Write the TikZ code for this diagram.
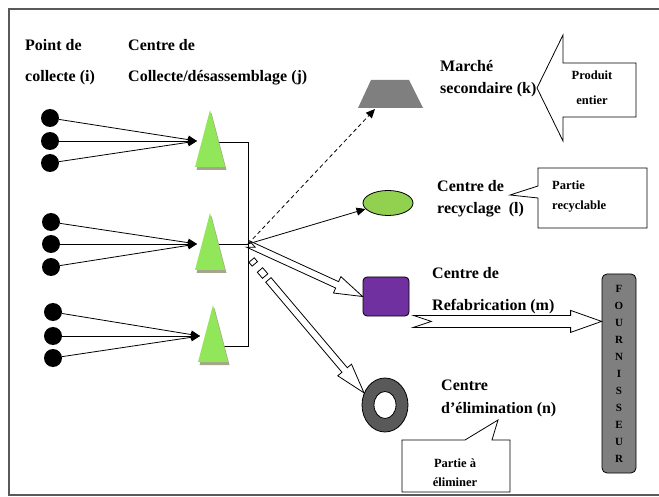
\documentclass[tikz,border=0pt]{standalone}
\usepackage{fontspec}
\setmainfont{Liberation Serif}
\usepackage{tikz}
\usetikzlibrary{arrows.meta,calc,shapes.geometric}
\definecolor{framegray}{HTML}{595959}
\definecolor{conegreen}{HTML}{92E65A}
\definecolor{coneshade}{HTML}{A6A68C}
\definecolor{recygreen}{HTML}{92D050}
\definecolor{refabpurple}{HTML}{7030A0}
\definecolor{elimgray}{HTML}{595959}
\definecolor{boxgray}{HTML}{7F7F7F}

% open block arrow: from, to, shaft half width, head half width, head length, tail notch
\newcommand{\hollowarrow}[6]{%
  \coordinate (ha-h) at ($(#2)!#5!(#1)$);
  \coordinate (ha-n) at ($(#1)!#6!(#2)$);
  \draw[hollow] ($(#1)!#3!90:(#2)$) -- ($(ha-h)!#3!90:(#2)$)
    -- ($(ha-h)!#4!90:(#2)$) -- (#2) -- ($(ha-h)!#4!-90:(#2)$)
    -- ($(ha-h)!#3!-90:(#2)$) -- ($(#1)!#3!-90:(#2)$) -- (ha-n) -- cycle;
}
% one stripe of a striped arrow: from, to, start, end
\newcommand{\hollowstripe}[4]{%
  \coordinate (hs-a) at ($(#1)!#3!(#2)$);
  \coordinate (hs-b) at ($(#1)!#4!(#2)$);
  \draw[hollow] ($(hs-a)!3.5pt!90:(#2)$) -- ($(hs-b)!3.5pt!90:(#2)$)
    -- ($(hs-b)!3.5pt!-90:(#2)$) -- ($(hs-a)!3.5pt!-90:(#2)$) -- cycle;
}

\begin{document}
\begin{tikzpicture}[
  x=1pt,y=-1pt,
  >={Triangle[length=9pt,width=8pt]},
  dot/.style={circle,fill=black,inner sep=0pt,minimum size=18pt},
  feed/.style={->,line width=.8pt},
  hollow/.style={draw=black,fill=white,line width=.8pt,line join=miter},
  lbl/.style={anchor=west,inner sep=0pt,align=left,font=\bfseries\fontsize{16}{22}\selectfont},
  note/.style={inner sep=0pt,font=\bfseries\fontsize{12.5}{20}\selectfont},
  bubble/.style={draw=black,fill=white,line width=.8pt}
]
  \useasboundingbox (0,0) rectangle (659,497);
  \draw[framegray,line width=1.5pt] (9,9) rectangle (700,495);

  \node[lbl,font=\bfseries\fontsize{16}{31}\selectfont] (pointlbl) at (25,62) {Point de\\collecte (i)};
  \node[lbl,font=\bfseries\fontsize{16}{31}\selectfont] (centrelbl) at (128,62) {Centre de\\Collecte/désassemblage (j)};

  % collection points and centres
  \coordinate (c1) at (210,142);
  \coordinate (c2) at (210,244);
  \coordinate (c3) at (213,346);
  \coordinate (j) at (248,244);
  \draw[line width=.8pt] (c1) -| (j);
  \draw[line width=.8pt] (c3) -| (j);
  \draw[line width=.8pt] (c2) -- (j);

  \foreach \g/\ax/\ay in {1/210/110,2/210/213,3/213/305}{
    \fill[coneshade] (\ax+1.5,\ay+3) -- (\ax+16.5,\ay+60) -- (\ax-13.5,\ay+60) -- cycle;
    \fill[conegreen] (\ax,\ay) -- (\ax+15,\ay+57) -- (\ax-15,\ay+57) -- cycle;
    \coordinate (in\g) at (\ax-13,\ay+31);
  }

  \foreach \g/\px/\ya/\yb/\yc in {1/50/118/141/163,2/51/222/244/267,3/53/312/336/358}{
    \node[dot] (p\g1) at (\px,\ya) {};
    \node[dot] (p\g2) at (\px,\yb) {};
    \node[dot] (p\g3) at (\px,\yc) {};
    \foreach \k in {1,2,3}
      \draw[feed] (p\g\k) -- (in\g);
  }

  % destinations
  \fill[boxgray] (358,108) -- (371,80) -- (409,80) -- (423,108) -- cycle;
  \coordinate (market) at (375,109);
  \node[ellipse,draw=black,fill=recygreen,line width=.8pt,minimum width=50pt,
    minimum height=25pt,inner sep=0pt] (recy) at (388,203) {};
  \node[draw=black,fill=refabpurple,rounded corners=4pt,line width=.8pt,
    minimum width=46pt,minimum height=39pt,inner sep=0pt] (sq) at (386,296.5) {};
  \node[ellipse,draw=black,fill=elimgray,line width=.8pt,minimum width=46pt,
    minimum height=54pt,inner sep=0pt] (ring) at (385,405) {};
  \node[ellipse,draw=black,fill=white,line width=.8pt,minimum width=22pt,
    minimum height=27pt,inner sep=0pt] (hole) at (ring) {};
  \node[draw=black,fill=boxgray,rounded corners=5pt,line width=.8pt,
    minimum width=34pt,minimum height=199pt,inner sep=0pt,align=center,
    font=\bfseries\fontsize{11}{17}\selectfont] (four) at (619,373.5)
    {F\\O\\U\\R\\N\\I\\S\\S\\E\\U\\R};

  \draw[->,line width=.8pt,dash pattern=on 4pt off 3pt] (j) -- (market);
  \draw[->,line width=.8pt] (j) -- (recy.195);
  \hollowarrow{j}{sq.west}{3.5pt}{9pt}{28pt}{8pt}

  \coordinate (js) at (249,257);
  \coordinate (jr) at ($(js)!30pt!(ring.150)$);
  \hollowstripe{js}{ring.150}{4pt}{9pt}
  \hollowstripe{js}{ring.150}{17pt}{25pt}
  \hollowarrow{jr}{ring.150}{3.5pt}{9pt}{30pt}{0pt}

  \coordinate (rf) at ($(sq.south east)+(4,5)$);
  \hollowarrow{rf}{four.west |- rf}{6pt}{11pt}{31pt}{18pt}

  \node[lbl] (marchelbl) at (440,79) {Marché\\secondaire (k)};
  \node[lbl] (recylbl) at (437,199) {Centre de\\recyclage~~(l)};
  \node[lbl,font=\bfseries\fontsize{16}{32}\selectfont] (refablbl) at (432,291) {Centre de\\Refabrication (m)};
  \node[lbl,font=\bfseries\fontsize{16}{23}\selectfont] (elimlbl) at (441,398.5) {Centre\\d’élimination (n)};

  % callouts
  \draw[bubble] (537,88) -- (563,35) -- (563,63) -- (636,63) -- (636,117)
    -- (563,117) -- (563,141) -- cycle;
  \node[note,align=center,font=\bfseries\fontsize{12.5}{25}\selectfont] (produitlbl) at (592,88) {Produit\\entier};

  \draw[bubble] (538,168) -- (647,168) -- (647,228) -- (538,228) -- (538,198)
    -- (510,195) -- (538,186) -- cycle;
  \node[note,anchor=west,align=left] (partierlbl) at (552,197) {Partie\\recyclable};

  \draw[bubble] (402,440) -- (465,440) -- (498,420) -- (492,440) -- (510,440)
    -- (510,492) -- (402,492) -- cycle;
  \node[note,align=center,font=\bfseries\fontsize{12.5}{19}\selectfont] (partieelbl) at (455,472.5) {Partie à\\éliminer};
\end{tikzpicture}
\end{document}
